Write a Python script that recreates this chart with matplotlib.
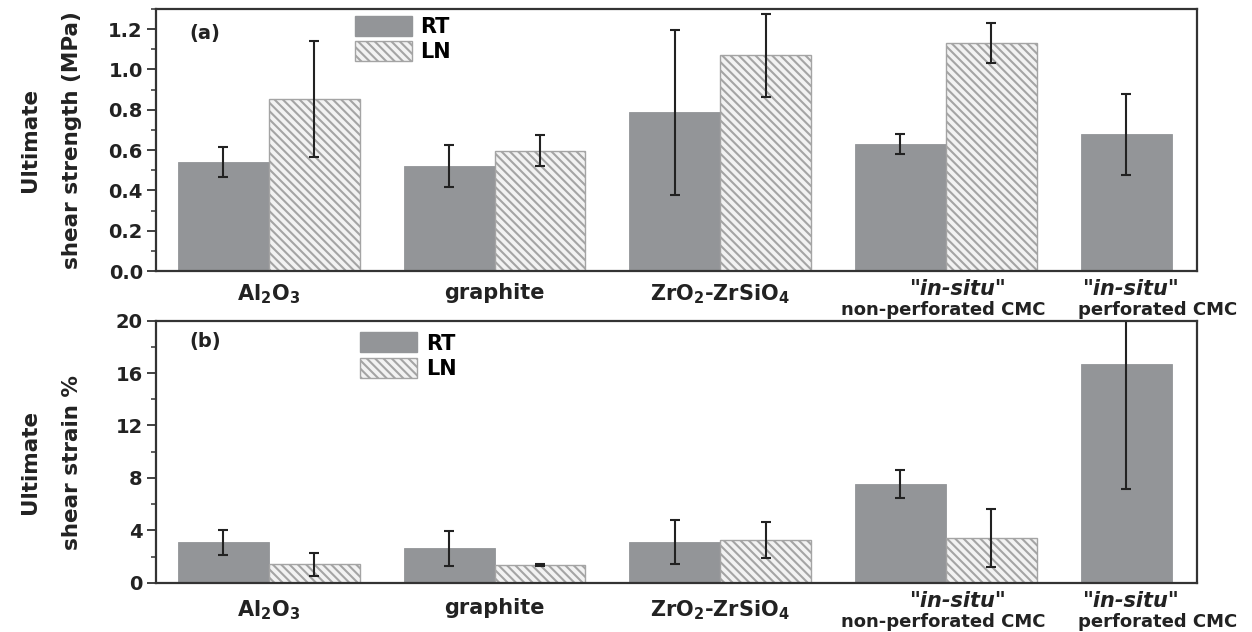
import numpy as np
import matplotlib
matplotlib.use("Agg")
import matplotlib.pyplot as plt
from matplotlib.patches import Patch
from matplotlib.ticker import MultipleLocator, FormatStrFormatter
import matplotlib.transforms as mtransforms

# ---- data -------------------------------------------------------------
groups = ["Al$_\\mathbf{2}$O$_\\mathbf{3}$", "graphite",
          "ZrO$_\\mathbf{2}$-ZrSiO$_\\mathbf{4}$",
          "non-perforated CMC", "perforated CMC"]

# ultimate shear strength (MPa)
strength_rt = [0.54, 0.52, 0.787, 0.63, 0.678]
strength_rt_err = [0.074, 0.103, 0.41, 0.048, 0.20]
strength_ln = [0.854, 0.597, 1.071, 1.132, np.nan]
strength_ln_err = [0.286, 0.078, 0.206, 0.099, np.nan]

# ultimate shear strain (%)
strain_rt = [3.08, 2.62, 3.08, 7.53, 16.67]
strain_rt_err = [0.93, 1.31, 1.69, 1.08, 9.5]
strain_ln = [1.40, 1.36, 3.26, 3.39, np.nan]
strain_ln_err = [0.88, 0.08, 1.37, 2.21, np.nan]

# ---- style ------------------------------------------------------------
plt.rcParams['font.family'] = 'DejaVu Sans'
plt.rcParams['font.weight'] = 'bold'
plt.rcParams['mathtext.default'] = 'bf'
plt.rcParams['hatch.linewidth'] = 1.5

rt_color = '#939598'
ln_face = '#f2f2f2'
ln_edge = '#a4a4a4'
ink = '#222222'
w = 0.403

fig = plt.figure(figsize=(12.52, 6.32), dpi=100)
ax1 = fig.add_axes([0.1246, 0.5712, 0.8315, 0.4146])
ax2 = fig.add_axes([0.1246, 0.0780, 0.8315, 0.4146])

x = np.arange(len(groups))


def draw_panel(ax, rt, rt_err, ln, ln_err):
    ax.bar(x - w / 2, rt, w, color=rt_color, edgecolor=rt_color, linewidth=0.6)
    ax.bar(x + w / 2, ln, w, color=ln_face, edgecolor=ln_edge,
           hatch='\\\\\\\\', linewidth=1.0)
    ax.errorbar(x - w / 2, rt, yerr=rt_err, fmt='none', ecolor=ink,
                elinewidth=1.5, capsize=3.8, capthick=1.5)
    ax.errorbar(x + w / 2, ln, yerr=ln_err, fmt='none', ecolor=ink,
                elinewidth=1.5, capsize=3.8, capthick=1.5)
    ax.set_xlim(-0.5, 4.113)
    ax.set_xticks([])
    for s in ax.spines.values():
        s.set_color('#333333')
        s.set_linewidth(1.6)
    ax.tick_params(axis='y', which='major', direction='out', length=6.5,
                   width=1.3, labelsize=14, colors='#333333', labelcolor=ink, pad=3)
    ax.tick_params(axis='y', which='minor', direction='out', length=3.5,
                   width=1.1, colors='#333333')


def group_labels(ax, y_main, y_top, y_bottom):
    trans = mtransforms.blended_transform_factory(ax.transData, ax.transAxes)
    for i in range(3):
        ax.text(x[i], y_main, groups[i], transform=trans, ha='center', va='top',
                fontsize=15, fontweight='bold', color=ink)
    for i, (dx1, dx2) in zip([3, 4], [(0.05, -0.01), (-0.183, -0.06)]):
        ax.text(x[i] + dx1, y_top, '"in-situ"', transform=trans, ha='center',
                va='top', fontsize=15, fontweight='bold', fontstyle='italic',
                color=ink)
        ax.text(x[i] + dx2, y_bottom, groups[i], transform=trans, ha='center',
                va='top', fontsize=13, fontweight='bold', color=ink)


def add_legend(ax, anchor):
    handles = [Patch(facecolor=rt_color, edgecolor=rt_color, label='RT'),
               Patch(facecolor=ln_face, edgecolor=ln_edge, hatch='\\\\\\\\',
                     label='LN')]
    ax.legend(handles=handles, loc='upper left', bbox_to_anchor=anchor,
              frameon=False, handlelength=2.75, handleheight=1.1,
              handletextpad=0.4, labelspacing=0.22, borderpad=0,
              borderaxespad=0, prop={'weight': 'bold', 'size': 15})


# (a) shear strength
draw_panel(ax1, strength_rt, strength_rt_err, strength_ln, strength_ln_err)
ax1.set_ylim(0, 1.3)
ax1.yaxis.set_major_locator(MultipleLocator(0.2))
ax1.yaxis.set_minor_locator(MultipleLocator(0.1))
ax1.yaxis.set_major_formatter(FormatStrFormatter('%.1f'))
ax1.set_ylabel('Ultimate\nshear strength (MPa)', fontsize=15.5,
               fontweight='bold', color=ink, linespacing=2.35)
ax1.yaxis.set_label_coords(-0.071, 0.5)
ax1.text(0.047, 0.905, '(a)', transform=ax1.transAxes, ha='center',
         va='center', fontsize=14, fontweight='bold', color=ink)
add_legend(ax1, (0.191, 0.975))
group_labels(ax1, -0.045, -0.03, -0.115)

# (b) shear strain
draw_panel(ax2, strain_rt, strain_rt_err, strain_ln, strain_ln_err)
ax2.set_ylim(0, 20)
ax2.yaxis.set_major_locator(MultipleLocator(4))
ax2.yaxis.set_minor_locator(MultipleLocator(2))
ax2.set_ylabel('Ultimate\nshear strain %', fontsize=15.5,
               fontweight='bold', color=ink, linespacing=2.35)
ax2.yaxis.set_label_coords(-0.071, 0.46)
ax2.text(0.047, 0.922, '(b)', transform=ax2.transAxes, ha='center',
         va='center', fontsize=14, fontweight='bold', color=ink)
add_legend(ax2, (0.196, 0.955))
group_labels(ax2, -0.058, -0.03, -0.115)

fig.savefig('out.png', dpi=100)
